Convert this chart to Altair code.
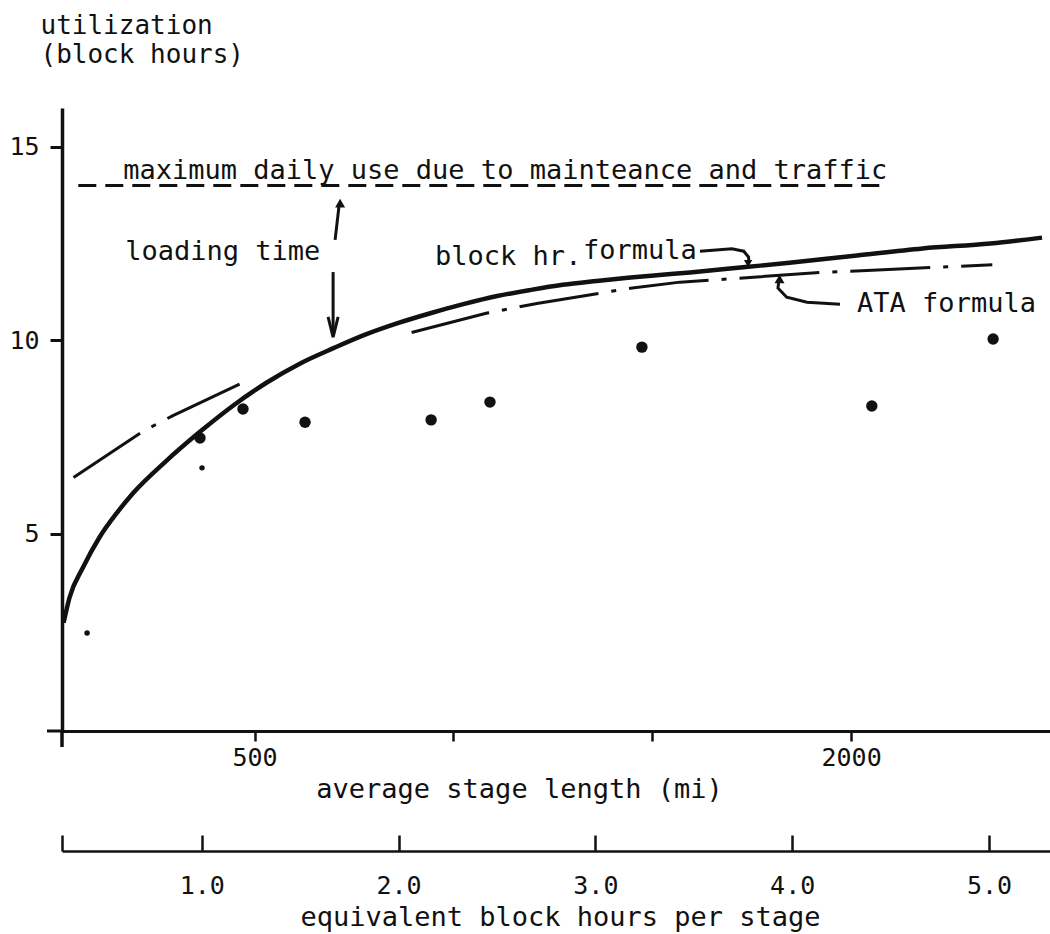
import altair as alt
import pandas as pd

FONT = "DejaVu Sans Mono"
INK = "#111111"

# ---------------- data ----------------
# "block hr. formula" curve (solid)
blk_mi = [20, 35, 70, 110, 155, 195, 275, 365, 445, 530, 615, 700, 775, 860, 940,
          1025, 1110, 1195, 1275, 1360, 1445, 1525, 1595, 1735, 1845, 2015, 2180, 2350, 2480]
blk_util = [2.7, 3.35, 4.15, 4.9, 5.55, 6.05, 6.85, 7.65, 8.3, 8.9, 9.4, 9.8, 10.13, 10.44, 10.69,
            10.93, 11.14, 11.3, 11.43, 11.53, 11.62, 11.69, 11.75, 11.89, 12.0, 12.19, 12.37, 12.5, 12.65]

# "ATA formula" curve (dash-dot), drawn in two pieces
ata1_mi = [45, 220, 295, 490]
ata1_util = [6.45, 7.65, 8.05, 9.0]
ata2_mi = [895, 1085, 1210, 1450, 1570, 1645, 1925, 2040, 2355]
ata2_util = [10.2, 10.7, 10.95, 11.35, 11.5, 11.55, 11.75, 11.8, 11.95]

# observed airline points
obs_mi = [363, 471, 627, 944, 1092, 1474, 2052, 2357]
obs_util = [7.47, 8.22, 7.88, 7.94, 8.40, 9.82, 8.30, 10.03]
faint_mi = [79, 368]
faint_util = [2.43, 6.70]

# maximum daily use line
max_use_mi = [57, 2085]
max_use_util = 14.0

# axes
x_ticks_mi = [500, 1000, 1500, 2000]
y_ticks = [5, 10, 15]
hours_ticks = [1, 2, 3, 4, 5]
hours_start = 0.29

# annotation arrows (paths in data units)
arrow_paths = {
    "up": ([702.6, 712.7], [12.59, 13.49]),
    "down": ([697.6, 697.6], [11.76, 10.15]),
    "down_head": ([685, 697.6, 710.2], [10.6, 10.08, 10.6]),
    "blk": ([1620, 1700, 1730, 1742, 1743], [12.30, 12.36, 12.30, 12.15, 12.05]),
    "ata": ([1972, 1889, 1838, 1816, 1818], [10.93, 10.98, 11.11, 11.35, 11.50]),
}
head_up_mi = [715.2, 1820]
head_up_util = [13.54, 11.58]
head_down_mi = [1741]
head_down_util = [11.98]

labels_text = ["maximum daily use due to mainteance and traffic", "loading time",
               "block hr.", "formula", "ATA formula"]
labels_mi = [170, 175, 954, 1326, 2015]
labels_util = [14.16, 12.07, 11.94, 12.09, 10.72]

# ---------------- frames ----------------
curve_df = pd.DataFrame({"mi": blk_mi, "util": blk_util, "i": range(len(blk_mi))})
ata_df = pd.concat([
    pd.DataFrame({"mi": ata1_mi, "util": ata1_util, "seg": "a", "i": range(len(ata1_mi))}),
    pd.DataFrame({"mi": ata2_mi, "util": ata2_util, "seg": "b", "i": range(len(ata2_mi))}),
])
obs_df = pd.DataFrame({"mi": obs_mi, "util": obs_util})
faint_df = pd.DataFrame({"mi": faint_mi, "util": faint_util})
max_df = pd.DataFrame({"mi": max_use_mi, "util": [max_use_util] * len(max_use_mi), "i": [0, 1]})
arrow_rows = []
for k, (xs_, ys_) in arrow_paths.items():
    for j, (a, b) in enumerate(zip(xs_, ys_)):
        arrow_rows.append({"id": k, "i": j, "mi": a, "util": b})
arrow_df = pd.DataFrame(arrow_rows)
hu_df = pd.DataFrame({"mi": head_up_mi, "util": head_up_util})
hd_df = pd.DataFrame({"mi": head_down_mi, "util": head_down_util})
text_df = pd.DataFrame({"t": labels_text, "mi": labels_mi, "util": labels_util})
hours_df = pd.DataFrame({"h": [hours_start] + hours_ticks})

# ---------------- scales & axes ----------------
xs = alt.Scale(domain=[16, 2500], nice=False, zero=False)
ys = alt.Scale(domain=[-0.1, 16], nice=False, zero=False)
hs = alt.Scale(domain=[hours_start, 5.31], nice=False, zero=False)

x_axis = alt.Axis(
    values=x_ticks_mi, grid=False, format="d",
    labelExpr="datum.value == 500 || datum.value == 2000 ? datum.label : ''",
    labelFont=FONT, labelFontSize=25, labelColor=INK, labelBaseline="alphabetic", labelPadding=24,
    tickSize=10, tickWidth=2.5, tickColor=INK, domainColor=INK, domainWidth=3,
    title="average stage length (mi)", titleFont=FONT, titleFontSize=27, titleFontWeight="normal",
    titleColor=INK, titleX=457, titleY=66, titleAlign="center", titleBaseline="alphabetic",
)
y_axis = alt.Axis(
    values=y_ticks, grid=False,
    labelFont=FONT, labelFontSize=25, labelColor=INK, labelPadding=11, labelBaseline="middle",
    tickSize=12, tickWidth=3, tickColor=INK, domainColor=INK, domainWidth=3.5,
    title=["utilization", "(block hours)"], titleFont=FONT, titleFontSize=26,
    titleFontWeight="normal", titleColor=INK, titleAngle=0, titleAlign="left",
    titleBaseline="alphabetic", titleX=-22, titleY=-75, titleLineHeight=29,
)
X = alt.X("mi:Q", scale=xs, axis=x_axis)
Y = alt.Y("util:Q", scale=ys, axis=y_axis)

# ---------------- layers ----------------
curve = alt.Chart(curve_df).mark_line(color=INK, strokeWidth=4.5, interpolate="monotone").encode(
    x=X, y=Y, order="i:Q")
ata = alt.Chart(ata_df).mark_line(color=INK, strokeWidth=3, strokeDash=[80, 13, 5, 13]).encode(
    x=X, y=Y, detail="seg:N", order="i:Q")
maxline = alt.Chart(max_df).mark_line(color=INK, strokeWidth=3, strokeDash=[18, 9]).encode(
    x=X, y=Y, order="i:Q")
points = alt.Chart(obs_df).mark_point(filled=True, shape="circle", size=130, color=INK, opacity=1).encode(
    x=X, y=Y)
faint = alt.Chart(faint_df).mark_point(filled=True, shape="circle", size=30, color=INK, opacity=1).encode(
    x=X, y=Y)
arrows = alt.Chart(arrow_df).mark_line(color=INK, strokeWidth=3).encode(
    x=X, y=Y, detail="id:N", order="i:Q")
heads_up = alt.Chart(hu_df).mark_point(filled=True, shape="triangle-up", size=100, color=INK, opacity=1).encode(
    x=X, y=Y)
heads_down = alt.Chart(hd_df).mark_point(filled=True, shape="triangle-down", size=70, color=INK, opacity=1).encode(
    x=X, y=Y)
texts = alt.Chart(text_df).mark_text(font=FONT, fontSize=27, align="left", baseline="alphabetic",
                                     color=INK).encode(x=X, y=Y, text="t:N")
# small extensions of the hand-drawn axis lines past the origin
ext_x = alt.Chart(obs_df.head(1)).mark_rule(color=INK, strokeWidth=3).encode(
    x=alt.value(-15), x2=alt.value(0), y=alt.value(623))
ext_y = alt.Chart(obs_df.head(1)).mark_rule(color=INK, strokeWidth=3.5).encode(
    x=alt.value(0), y=alt.value(623), y2=alt.value(639))

main = alt.layer(maxline, ata, curve, points, faint, arrows, heads_up, heads_down, texts, ext_x, ext_y)

hours_ticks_layer = alt.Chart(hours_df).mark_point(opacity=0).encode(
    x=alt.X("h:Q", scale=hs, axis=alt.Axis(
        orient="bottom", offset=104, values=[hours_start] + hours_ticks, tickSize=16, tickWidth=2.5,
        tickColor=INK, domain=False, labels=False, grid=False, title=None)))
hours_axis_layer = alt.Chart(hours_df).mark_point(opacity=0).encode(
    x=alt.X("h:Q", scale=hs, axis=alt.Axis(
        orient="bottom", offset=120, values=hours_ticks, ticks=False, domain=True, domainWidth=2.5,
        domainColor=INK, grid=False, format=".1f",
        labelFont=FONT, labelFontSize=25, labelColor=INK, labelBaseline="alphabetic", labelPadding=42,
        title="equivalent block hours per stage", titleFont=FONT, titleFontSize=27,
        titleFontWeight="normal", titleColor=INK, titleX=498, titleY=74, titleAlign="center",
        titleBaseline="alphabetic")))

chart = alt.layer(main, hours_ticks_layer, hours_axis_layer).resolve_scale(x="independent").properties(
    width=988, height=623,
    autosize=alt.AutoSizeParams(type="none"),
    padding={"left": 62, "top": 108, "right": 0, "bottom": 203},
    background="white",
).configure_view(strokeWidth=0)

chart.save("out.html", embed_options={"renderer": "svg", "actions": False})
